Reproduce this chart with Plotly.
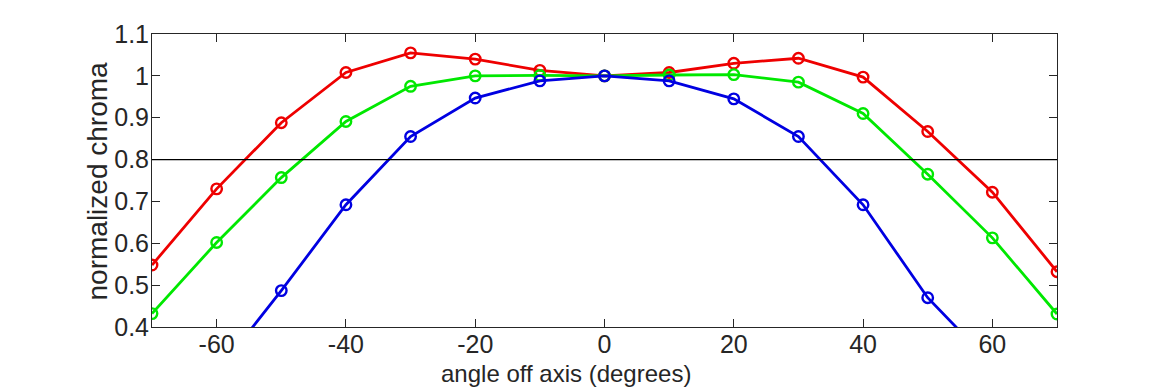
import plotly.graph_objects as go

angles = [-70, -60, -50, -40, -30, -20, -10, 0, 10, 20, 30, 40, 50, 60, 70]
red = [0.548, 0.730, 0.888, 1.008, 1.055, 1.040, 1.013, 1.000, 1.008, 1.030, 1.042, 0.997, 0.867, 0.722, 0.532]
green = [0.432, 0.602, 0.757, 0.891, 0.975, 1.000, 1.001, 1.000, 1.002, 1.003, 0.985, 0.910, 0.765, 0.613, 0.431]
blue = [0.10, 0.29, 0.487, 0.692, 0.855, 0.947, 0.988, 1.000, 0.988, 0.945, 0.855, 0.692, 0.470, 0.31, 0.10]
threshold = 0.8

x_ticks = [-60, -40, -20, 0, 20, 40, 60]
x_tick_text = ["-60", "-40", "-20", "0", "20", "40", "60"]
y_ticks = [0.4, 0.5, 0.6, 0.7, 0.8, 0.9, 1.0, 1.1]
y_tick_text = ["0.4", "0.5", "0.6", "0.7", "0.8", "0.9", "1", "1.1"]
x_title = "angle off axis (degrees)"
y_title = "normalized chroma"

FONT = "Liberation Sans, Arial, Helvetica, sans-serif"
TXT = "#262626"

fig = go.Figure()
for vals, col in [(red, "rgb(238,0,0)"), (green, "rgb(0,232,0)"), (blue, "rgb(0,0,225)")]:
    fig.add_trace(go.Scatter(
        x=angles, y=vals, mode="lines+markers",
        line=dict(color=col, width=2.8),
        marker=dict(symbol="circle-open", size=10.5, color=col, line=dict(width=2.4, color=col)),
        showlegend=False,
    ))

fig.add_shape(type="line", xref="paper", x0=0, x1=1, yref="y", y0=threshold, y1=threshold,
              line=dict(color="black", width=1.2))

axis_common = dict(showgrid=False, zeroline=False, showline=True, linecolor=TXT, linewidth=1,
                   mirror="ticks", ticks="inside", ticklen=8, tickcolor=TXT, tickwidth=1,
                   tickfont=dict(family=FONT, size=25, color=TXT))

fig.update_xaxes(range=[-70, 70], tickvals=x_ticks, ticktext=x_tick_text, ticklabelstandoff=-5,
                 **axis_common)
fig.update_yaxes(range=[0.4, 1.1], tickvals=y_ticks, ticktext=y_tick_text, ticklabelstandoff=-3,
                 **axis_common)

fig.add_annotation(text=x_title, xref="paper", yref="paper", x=0.4575, y=-0.160,
                   xanchor="center", yanchor="middle", showarrow=False,
                   font=dict(family=FONT, size=24, color=TXT))
fig.add_annotation(text=y_title, xref="paper", yref="paper", x=-0.0597, y=0.5,
                   xanchor="center", yanchor="middle", textangle=-90, showarrow=False,
                   font=dict(family=FONT, size=28, color=TXT))

fig.update_layout(width=1170, height=390, margin=dict(l=144, r=121, t=21, b=71),
                  plot_bgcolor="white", paper_bgcolor="white")

fig.write_html("out.html")
